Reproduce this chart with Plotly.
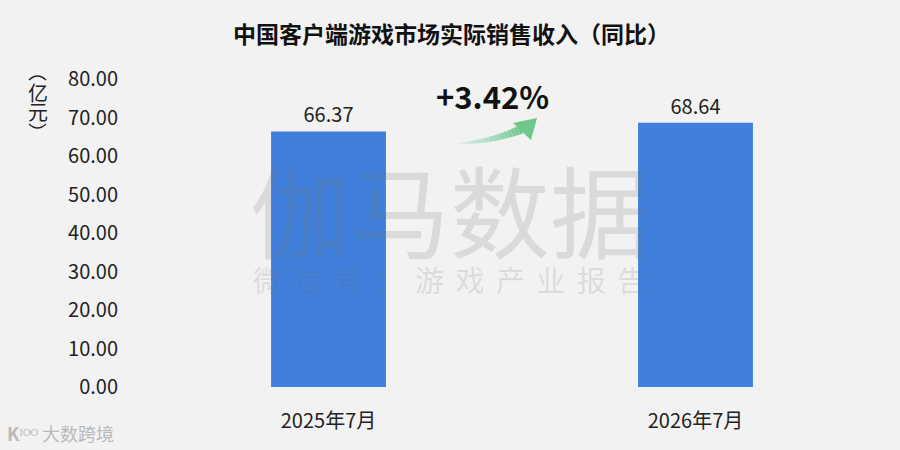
import plotly.graph_objects as go

months = ["2025年7月", "2026年7月"]
revenue = [66.37, 68.64]
growth_label = "+3.42%"
y_ticks = [0, 10, 20, 30, 40, 50, 60, 70, 80]

FONT = "Noto Sans CJK SC"
BG = "#f2f2f2"

# plot area in pixels (900x450 canvas)
L, R, T, B = 145, 21, 79, 63
W, H = 900 - L - R, 450 - T - B


def px(x):
    return (x - L) / W


def py(y):
    return (450 - B - y) / H


def label(text, x, y, size, color="#222"):
    return dict(text=text, x=px(x), y=py(y), xref="paper", yref="paper",
                xanchor="center", yanchor="middle", showarrow=False,
                font=dict(family=FONT, size=size, color=color))


def arc(x0, y0, xc, yc, x1, y1):
    return dict(type="path", xref="paper", yref="paper",
                path=f"M {px(x0)} {py(y0)} Q {px(xc)} {py(yc)} {px(x1)} {py(y1)}",
                line=dict(color="#222", width=1.3))


fig = go.Figure()
fig.add_trace(go.Bar(
    x=months, y=revenue, width=0.313,
    marker=dict(color="#4080dc", line=dict(width=0)),
    text=[f"{v:.2f}" for v in revenue], textposition="outside",
    textfont=dict(family=FONT, size=20, color="#222"),
    cliponaxis=False, hoverinfo="skip",
))

shapes = []
# gradient curved arrow, drawn as short segments
p0, p1, p2 = (453, 144), (492, 142), (522, 129)
n = 18
c0, c1 = (232, 242, 248), (110, 200, 140)
for i in range(n):
    t0, t1 = i / n, (i + 1) / n
    pts = []
    for t in (t0, t1):
        xx = (1 - t) ** 2 * p0[0] + 2 * (1 - t) * t * p1[0] + t ** 2 * p2[0]
        yy = (1 - t) ** 2 * p0[1] + 2 * (1 - t) * t * p1[1] + t ** 2 * p2[1]
        pts.append((xx, yy))
    tm = (t0 + t1) / 2
    col = tuple(int(c0[k] + (c1[k] - c0[k]) * tm) for k in range(3))
    shapes.append(dict(
        type="line", xref="paper", yref="paper",
        x0=px(pts[0][0]), y0=py(pts[0][1]), x1=px(pts[1][0]), y1=py(pts[1][1]),
        line=dict(color=f"rgb{col}", width=1 + 8 * tm),
    ))
head = [(537, 118), (513, 123), (531, 140)]
shapes.append(dict(
    type="path", xref="paper", yref="paper",
    path="M {} {} L {} {} L {} {} Z".format(*[v for p in head for v in (px(p[0]), py(p[1]))]),
    fillcolor="rgb(110,200,140)", line=dict(width=0),
))
# vertical brackets around the unit label
shapes.append(arc(29, 80, 37.5, 72, 46, 80))
shapes.append(arc(29, 124, 37.5, 132, 46, 124))

gap = "\u2004\u200a"
annotations = [
    label("<b>中国客户端游戏市场实际销售收入（同比）</b>", 451, 33, 23, "#111"),
    label("<b>" + growth_label + "</b>", 492, 95, 31, "#111"),
    label("亿", 38, 93, 20),
    label("元", 38, 112, 20),
    # watermark
    label("伽马数据", 450, 208, 100, "rgba(110,110,110,0.18)"),
    label(gap.join("微信号：游戏产业报告"), 449, 279, 29, "rgba(100,100,100,0.17)"),
    label("<b>K</b>ᴵᴼᴼ 大数跨境", 60, 433, 18, "rgba(170,170,170,0.8)"),
]

fig.update_layout(
    width=900, height=450,
    margin=dict(l=L, r=R, t=T, b=B),
    paper_bgcolor=BG, plot_bgcolor=BG,
    showlegend=False,
    shapes=shapes, annotations=annotations,
    xaxis=dict(range=[-0.5, 1.5], showgrid=False, zeroline=False, showline=False,
               ticks="", ticklabelstandoff=20,
               tickfont=dict(family=FONT, size=20, color="#222")),
    yaxis=dict(range=[0, 80], tickvals=y_ticks, tickformat=".2f",
               showgrid=False, zeroline=False, showline=False, ticks="",
               ticklabelstandoff=26,
               tickfont=dict(family=FONT, size=20, color="#222")),
)

fig.write_html("out.html", config={"displayModeBar": False},
               post_script="document.body.style.margin='0';")
